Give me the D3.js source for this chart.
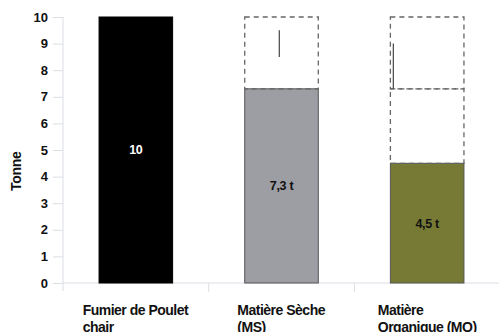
<!DOCTYPE html>
<html>
<head>
<meta charset="utf-8">
<script src="https://cdn.jsdelivr.net/npm/d3@7"></script>
<style>
  html, body { margin: 0; padding: 0; background: #fff; }
  svg { display: block; }
  text { font-family: "Liberation Sans", Arial, Helvetica, sans-serif; font-weight: bold; }
</style>
</head>
<body>
<svg id="chart" width="499" height="332"></svg>
<script>
// Categories (multi-line labels) and their values in tonnes
const categories = ["Fumier de Poulet chair", "Matière Sèche (MS)", "Matière Organique (MO)"];
const categoryLines = [["Fumier de Poulet", "chair"], ["Matière Sèche", "(MS)"], ["Matière", "Organique (MO)"]];
const values = [10, 7.3, 4.5];
const valueLabels = ["10", "7,3 t", "4,5 t"];
const barColors = ["#000000", "#9d9ea4", "#767a35"];
const labelColors = ["#ffffff", "#111111", "#111111"];
// Dashed outline of the mass removed at each step: [from, to] in tonnes
const removedSteps = [null, [[7.3, 10]], [[7.3, 10], [4.5, 7.3]]];
// Short vertical strokes inside the dashed boxes: [category index, x fraction, from, to]
const strokes = [[1, 0.47, 8.5, 9.5], [2, 0.04, 7.3, 9.0]];
const yTicks = [0, 1, 2, 3, 4, 5, 6, 7, 8, 9, 10];

const svg = d3.select("#chart");
const margin = { left: 63, right: 0, top: 17, bottom: 49 };
const W = 499, H = 332;

const x = d3.scaleBand().domain(categories).range([margin.left, W + 1]).paddingInner(0).paddingOuter(0);
const y = d3.scaleLinear().domain([0, 10]).range([H - margin.bottom, margin.top]);
const barW = x.bandwidth() * 0.505;
const barX = c => x(c) + (x.bandwidth() - barW) / 2;

const axisColor = "#dcdee5";

// y axis
const yAxis = svg.append("g").attr("transform", `translate(${margin.left},0)`)
  .call(d3.axisLeft(y).tickValues(yTicks).tickSize(10).tickPadding(5));
yAxis.select(".domain").attr("stroke", axisColor).attr("d", `M0,${y(10)}V${y(0) + 8}`);
yAxis.selectAll(".tick line").attr("stroke", axisColor);
yAxis.selectAll(".tick text").attr("font-size", 13).attr("fill", "#111").attr("font-weight", "bold")
  .attr("font-family", '"Liberation Sans", Arial, sans-serif');

// x axis
const xAxis = svg.append("g").attr("transform", `translate(0,${y(0)})`)
  .call(d3.axisBottom(x).tickSize(0).tickFormat(""));
xAxis.select(".domain").attr("stroke", axisColor).attr("d", `M${margin.left},0H${W}`);
xAxis.selectAll(".tick").remove();
// category separators
svg.append("g").selectAll("line").data(categories.slice(1)).join("line")
  .attr("x1", c => x(c)).attr("x2", c => x(c))
  .attr("y1", y(0)).attr("y2", y(0) + 9)
  .attr("stroke", axisColor);

// bars
svg.append("g").selectAll("rect").data(values).join("rect")
  .attr("x", (d, i) => barX(categories[i]))
  .attr("y", d => y(d))
  .attr("width", barW)
  .attr("height", d => y(0) - y(d))
  .attr("fill", (d, i) => barColors[i])
  .attr("stroke", (d, i) => i === 0 ? "#000" : "#555")
  .attr("stroke-width", 1);

// dashed boxes for removed portions
removedSteps.forEach((steps, i) => {
  if (!steps) return;
  steps.forEach(([lo, hi]) => {
    svg.append("rect")
      .attr("x", barX(categories[i]))
      .attr("y", y(hi))
      .attr("width", barW)
      .attr("height", y(lo) - y(hi))
      .attr("fill", "none")
      .attr("stroke", "#666")
      .attr("stroke-width", 1.3)
      .attr("stroke-dasharray", "5,4");
  });
});

// short strokes
strokes.forEach(([i, f, lo, hi]) => {
  const cx = barX(categories[i]) + barW * f;
  svg.append("line")
    .attr("x1", cx).attr("x2", cx)
    .attr("y1", y(hi)).attr("y2", y(lo))
    .attr("stroke", "#444").attr("stroke-width", 1.2);
});

// value labels
svg.append("g").selectAll("text").data(values).join("text")
  .attr("x", (d, i) => barX(categories[i]) + barW / 2)
  .attr("y", d => y(d / 2))
  .attr("dy", "0.35em")
  .attr("text-anchor", "middle")
  .attr("font-size", 12.5)
  .attr("letter-spacing", -0.3)
  .attr("fill", (d, i) => labelColors[i])
  .text((d, i) => valueLabels[i]);

// y axis title
svg.append("text")
  .attr("transform", `translate(21,${y(4.2)}) rotate(-90)`)
  .attr("text-anchor", "middle")
  .attr("font-size", 14)
  .attr("letter-spacing", -0.3)
  .attr("fill", "#111")
  .text("Tonne");

// category labels: lines left-aligned, block centred under the bar
categoryLines.forEach((lines, i) => {
  const g = svg.append("g");
  const t = g.append("text").attr("font-size", 14).attr("letter-spacing", -0.5).attr("fill", "#111");
  lines.forEach((ln, k) => {
    t.append("tspan").attr("x", 0).attr("y", y(0) + 32 + k * 17).text(ln);
  });
  const w = t.node().getBBox().width;
  let left = barX(categories[i]) + barW / 2 - w / 2;
  left = Math.min(left, W - w - 3);
  g.attr("transform", `translate(${left},0)`);
});
</script>
</body>
</html>
